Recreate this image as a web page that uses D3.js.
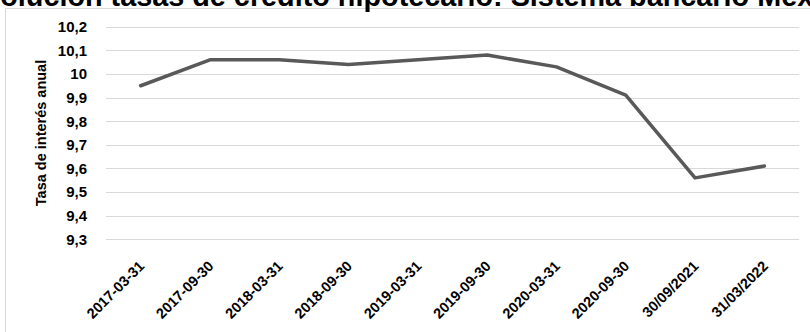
<!DOCTYPE html>
<html>
<head>
<meta charset="utf-8">
<script src="https://cdn.jsdelivr.net/npm/d3@7"></script>
<style>
  html, body { margin: 0; padding: 0; background: #fff; overflow: hidden; }
  svg { display: block; }
</style>
</head>
<body>
<svg id="chart" width="810" height="332"></svg>
<script>
// Tasa de interés anual del crédito hipotecario por fecha de corte
const fechas = ["2017-03-31", "2017-09-30", "2018-03-31", "2018-09-30", "2019-03-31",
                "2019-09-30", "2020-03-31", "2020-09-30", "30/09/2021", "31/03/2022"];
const tasas = [9.95, 10.06, 10.06, 10.04, 10.06, 10.08, 10.03, 9.91, 9.56, 9.61];
const ticksY = [9.3, 9.4, 9.5, 9.6, 9.7, 9.8, 9.9, 10.0, 10.1, 10.2];
const titulo = "Evolución tasas de crédito hipotecario: Sistema bancario Mexicano";
const tituloEje = "Tasa de interés anual";

const svg = d3.select("#chart");
const plot = { left: 106, right: 799, top: 26.7, bottom: 239.3 };
const fontFam = "'Liberation Sans', Arial, sans-serif";

// chart area frame
svg.append("rect")
  .attr("x", 5.5).attr("y", 8.5)
  .attr("width", 900).attr("height", 400)
  .attr("fill", "none").attr("stroke", "#d9d9d9").attr("stroke-width", 1);

// title (runs wider than the frame)
svg.append("text")
  .attr("x", -35).attr("y", 6)
  .attr("font-family", fontFam).attr("font-weight", "bold")
  .attr("font-size", 28.8).attr("fill", "#000")
  .text(titulo);

const x = d3.scalePoint().domain(fechas).range([plot.left, plot.right]).padding(0.5);
const y = d3.scaleLinear().domain([9.3, 10.2]).range([plot.bottom, plot.top]);

const fmt = v => d3.format(".1f")(v).replace(/\.0$/, "").replace(".", ",");

// horizontal gridlines
svg.append("g")
  .selectAll("line").data(ticksY).join("line")
  .attr("x1", plot.left).attr("x2", plot.right)
  .attr("y1", d => Math.round(y(d)) + 0.5).attr("y2", d => Math.round(y(d)) + 0.5)
  .attr("stroke", "#d9d9d9").attr("stroke-width", 1);

// y axis labels
const yAxis = d3.axisLeft(y).tickValues(ticksY).tickFormat(fmt).tickSize(0).tickPadding(0);
const gy = svg.append("g").attr("transform", "translate(87,0)").call(yAxis);
gy.select(".domain").remove();
gy.selectAll("text")
  .attr("font-family", fontFam).attr("font-weight", "bold")
  .attr("font-size", 15).attr("fill", "#000");

// y axis title
svg.append("text")
  .attr("transform", `translate(46,${(plot.top + plot.bottom) / 2}) rotate(-90)`)
  .attr("text-anchor", "middle")
  .attr("font-family", fontFam).attr("font-weight", "bold")
  .attr("font-size", 14.5).attr("fill", "#000")
  .text(tituloEje);

// x axis labels, rotated
const xAxis = d3.axisBottom(x).tickSize(0).tickPadding(0);
const gx = svg.append("g").attr("transform", "translate(0,267)").call(xAxis);
gx.select(".domain").remove();
gx.selectAll("text")
  .attr("font-family", fontFam).attr("font-weight", "bold")
  .attr("font-size", 14.5).attr("fill", "#000")
  .attr("text-anchor", "end")
  .attr("dy", 0).attr("y", 0)
  .attr("transform", "translate(4,0) rotate(-45)");

// series line
const line = d3.line().x((d, i) => x(fechas[i])).y(d => y(d));
svg.append("path")
  .datum(tasas)
  .attr("d", line)
  .attr("fill", "none")
  .attr("stroke", "#595959")
  .attr("stroke-width", 3.5)
  .attr("stroke-linejoin", "round")
  .attr("stroke-linecap", "round");
</script>
</body>
</html>
